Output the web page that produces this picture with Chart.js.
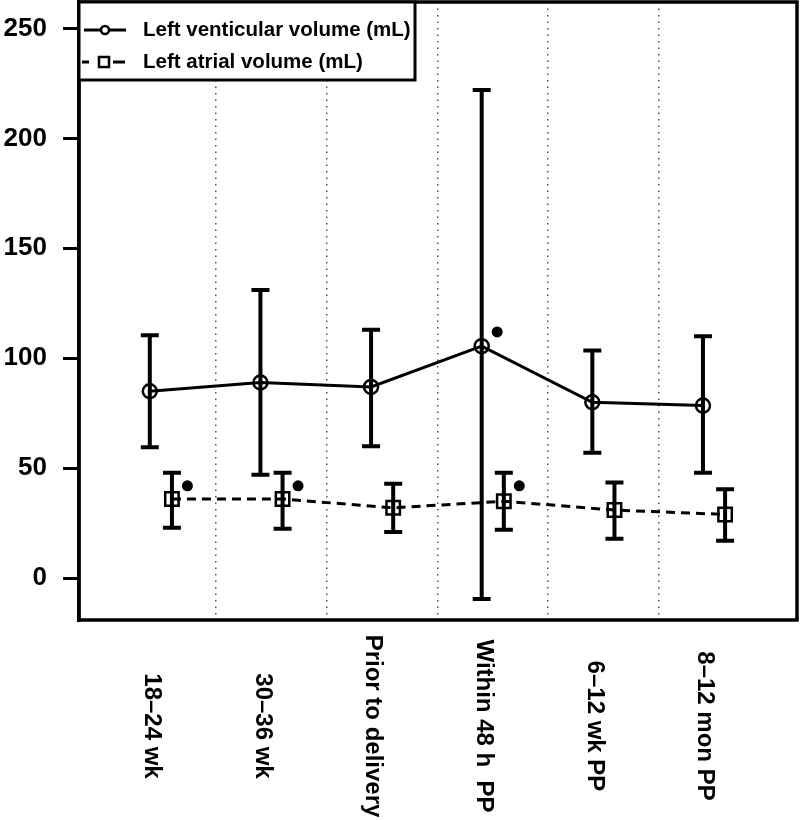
<!DOCTYPE html>
<html>
<head>
<meta charset="utf-8">
<script src="https://cdn.jsdelivr.net/npm/chart.js@4.4.1/dist/chart.umd.min.js"></script>
<style>
html,body{margin:0;padding:0;background:#fff;}
canvas{display:block;}
</style>
</head>
<body>
<canvas id="c" width="800" height="820"></canvas>
<script>
const categories = ['18\u201324 wk', '30\u201336 wk', 'Prior to delivery', 'Within 48 h  PP', '6\u201312 wk PP', '8\u201312 mon PP'];
const lvMean  = [85, 89, 87, 105.5, 80, 78.5];
const lvLower = [59.5, 47, 60, -9.5, 57, 48];
const lvUpper = [110.5, 131, 113, 222, 103.5, 110];
const laMean  = [36, 36, 32, 35, 31, 29];
const laLower = [23, 22.5, 21, 22, 18, 17];
const laUpper = [48, 48, 43, 48, 43.5, 40.5];
const lvSig = [null, null, null, 112, null, null];
const laSig = [42, 42, null, 42, null, null];
const yTicks = [0, 50, 100, 150, 200, 250];
const seriesLabels = ['Left venticular volume (mL)', 'Left atrial volume (mL)'];

const FONT = '"Liberation Sans", Arial, Helvetica, sans-serif';
const LA_OFF = 0.2, SIG_OFF = 0.14;

const lvPts = lvMean.map((v, i) => ({x: i + 1, y: v}));
const laPts = laMean.map((v, i) => ({x: i + 1 + LA_OFF, y: v}));
const sigPts = [];
lvSig.forEach((v, i) => { if (v !== null) sigPts.push({x: i + 1 + SIG_OFF, y: v}); });
laSig.forEach((v, i) => { if (v !== null) sigPts.push({x: i + 1 + LA_OFF + SIG_OFF, y: v}); });

const errorBars = {
  id: 'errorBars',
  afterDatasetsDraw(chart) {
    const {ctx, scales: {x, y}} = chart;
    ctx.save();
    ctx.strokeStyle = '#000';
    ctx.lineWidth = 4;
    ctx.lineCap = 'butt';
    const draw = (off, lo, hi) => {
      lo.forEach((l, i) => {
        const px = x.getPixelForValue(i + 1 + off);
        const y1 = y.getPixelForValue(l), y2 = y.getPixelForValue(hi[i]);
        ctx.beginPath();
        ctx.moveTo(px, y1); ctx.lineTo(px, y2);
        ctx.moveTo(px - 9, y1); ctx.lineTo(px + 9, y1);
        ctx.moveTo(px - 9, y2); ctx.lineTo(px + 9, y2);
        ctx.stroke();
      });
    };
    draw(0, lvLower, lvUpper);
    draw(LA_OFF, laLower, laUpper);
    ctx.restore();
  }
};

const frameAndLabels = {
  id: 'frameAndLabels',
  afterDraw(chart) {
    const {ctx, chartArea: a, scales: {x}} = chart;
    ctx.save();
    ctx.strokeStyle = '#000';
    ctx.lineWidth = 3.5;
    ctx.strokeRect(a.left, a.top, a.right - a.left, a.bottom - a.top);
    // legend
    const lx = a.left, ly = a.top, lw = 336, lh = 78;
    ctx.fillStyle = '#fff';
    ctx.fillRect(lx, ly, lw, lh);
    ctx.lineWidth = 3;
    ctx.strokeRect(lx, ly, lw, lh);
    const rows = [ly + 28, ly + 60];
    ctx.lineWidth = 3;
    ctx.beginPath(); ctx.moveTo(lx + 5, rows[0]); ctx.lineTo(lx + 47, rows[0]); ctx.stroke();
    ctx.beginPath(); ctx.arc(lx + 26, rows[0], 4, 0, Math.PI * 2);
    ctx.fillStyle = '#fff'; ctx.fill(); ctx.lineWidth = 2.5; ctx.stroke();
    ctx.lineWidth = 3;
    ctx.beginPath(); ctx.moveTo(lx + 3, rows[1]); ctx.lineTo(lx + 10, rows[1]);
    ctx.moveTo(lx + 34, rows[1]); ctx.lineTo(lx + 46, rows[1]); ctx.stroke();
    ctx.lineWidth = 2.5;
    ctx.fillStyle = '#fff';
    ctx.fillRect(lx + 20, rows[1] - 5, 10, 10);
    ctx.strokeRect(lx + 20, rows[1] - 5, 10, 10);
    ctx.fillStyle = '#000';
    ctx.font = 'bold 20.5px ' + FONT;
    ctx.textAlign = 'left';
    ctx.textBaseline = 'middle';
    ctx.fillText(seriesLabels[0], lx + 64, rows[0]);
    ctx.fillText(seriesLabels[1], lx + 64, rows[1]);
    // x category labels, rotated clockwise
    ctx.font = 'bold 24px ' + FONT;
    ctx.textAlign = 'center';
    categories.forEach((c, i) => {
      const px = x.getPixelForValue(i + 1);
      ctx.save();
      ctx.translate(px + 2, 726);
      ctx.rotate(Math.PI / 2);
      ctx.fillText(c, 0, 0);
      ctx.restore();
    });
    ctx.restore();
  }
};

new Chart(document.getElementById('c'), {
  type: 'line',
  data: {
    datasets: [
      {
        label: seriesLabels[0],
        data: lvPts,
        borderColor: '#000',
        borderWidth: 3,
        pointStyle: 'circle',
        pointRadius: 7,
        pointBorderWidth: 2.5,
        pointBorderColor: '#000',
        pointBackgroundColor: 'rgba(255,255,255,0)',
        tension: 0
      },
      {
        label: seriesLabels[1],
        data: laPts,
        borderColor: '#000',
        borderWidth: 3,
        borderDash: [9, 6],
        pointStyle: 'rect',
        pointRadius: 9.5,
        pointBorderWidth: 2.5,
        pointBorderColor: '#000',
        pointBackgroundColor: 'rgba(255,255,255,0)',
        tension: 0
      },
      {
        label: 'sig',
        data: sigPts,
        showLine: false,
        pointStyle: 'circle',
        pointRadius: 5.5,
        pointBorderWidth: 0,
        pointBackgroundColor: '#000',
        pointBorderColor: '#000'
      }
    ]
  },
  options: {
    responsive: false,
    animation: false,
    layout: {autoPadding: false, padding: {top: 2, right: 3, bottom: 0, left: 0}},
    plugins: {legend: {display: false}, tooltip: {enabled: false}},
    scales: {
      x: {
        type: 'linear',
        min: 0.36,
        max: 6.85,
        afterBuildTicks(s) { s.ticks = [1.6, 2.6, 3.6, 4.6, 5.6].map(v => ({value: v})); },
        afterFit(s) { s.height = 200; s.paddingLeft = 0; s.paddingRight = 0; },
        ticks: {display: false},
        border: {display: false, dash: [1.5, 5]},
        grid: {color: '#555', lineWidth: 1.5, drawTicks: false}
      },
      y: {
        min: -19,
        max: 262,
        afterBuildTicks(s) { s.ticks = yTicks.map(v => ({value: v})); },
        afterFit(s) { s.width = 79; s.paddingTop = 0; s.paddingBottom = 0; },
        ticks: {
          color: '#000',
          padding: 16,
          font: {family: FONT, size: 26, weight: 'bold'}
        },
        border: {display: true, color: '#000', width: 3.5},
        grid: {drawOnChartArea: false, drawTicks: true, tickLength: 16, color: '#000', lineWidth: 3}
      }
    }
  },
  plugins: [errorBars, frameAndLabels]
});
</script>
</body>
</html>
